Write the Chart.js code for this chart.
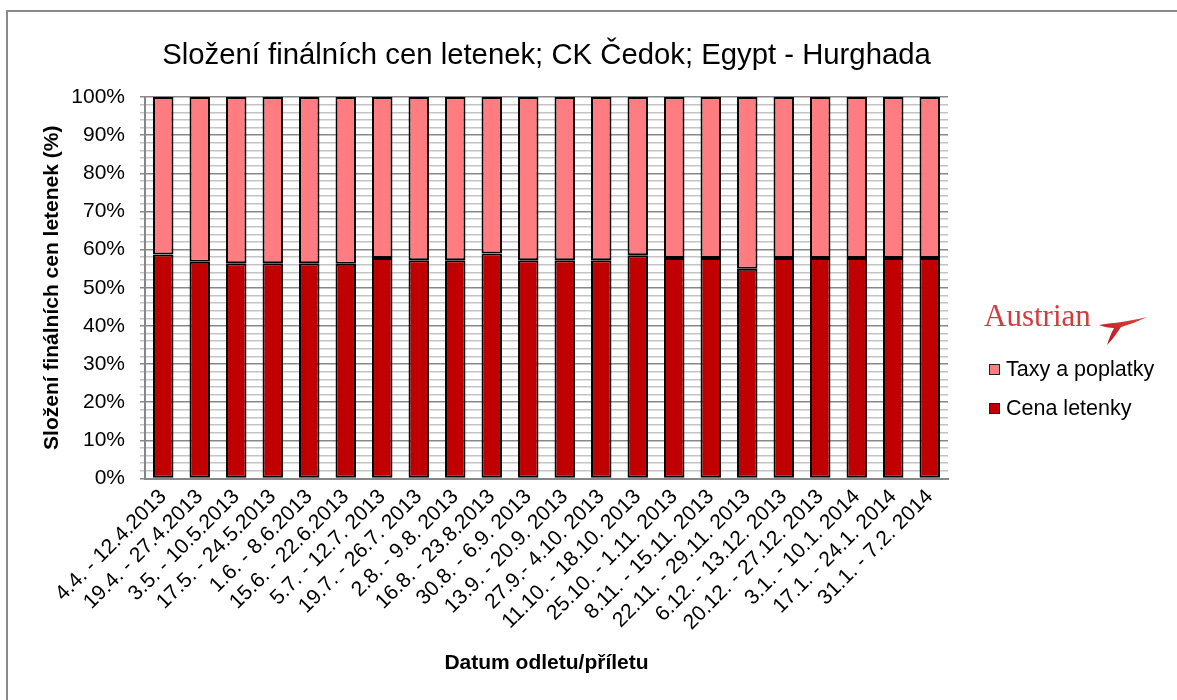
<!DOCTYPE html>
<html lang="cs">
<head>
<meta charset="utf-8">
<script src="https://cdn.jsdelivr.net/npm/chart.js@4.4.1/dist/chart.umd.min.js"></script>
<style>
  html, body { margin: 0; padding: 0; background: #fff; }
  body { width: 1177px; height: 700px; position: relative; overflow: hidden; font-family: "Liberation Sans", Arial, sans-serif; }
  #frame { position: absolute; left: 6px; top: 10px; width: 1300px; height: 800px; border-left: 2px solid #8a8a8a; border-top: 2px solid #8a8a8a; }
  #chart { position: absolute; left: 0; top: 0; }
  #title { position: absolute; left: 0; width: 1093px; top: 37px; text-align: center; font-size: 29.3px; color: #000; white-space: nowrap; }
  #logo { position: absolute; left: 984px; top: 298px; font-family: "Liberation Serif", "Times New Roman", serif; font-size: 31px; color: #d23b3f; }
  #swoosh { position: absolute; left: 1097px; top: 312px; }
  .leg { position: absolute; left: 989px; font-size: 21.5px; color: #000; white-space: nowrap; }
  .leg i { display: inline-block; width: 9px; height: 9px; border: 1px solid #222; margin-right: 6px; vertical-align: 1px; }
</style>
</head>
<body>
<div id="frame"></div>
<canvas id="chart" width="1177" height="700"></canvas>
<div id="title">Složení finálních cen letenek; CK Čedok; Egypt - Hurghada</div>
<div id="logo">Austrian</div>
<svg id="swoosh" width="52" height="36" viewBox="0 0 52 36">
  <defs><linearGradient id="sg" x1="0" y1="1" x2="1" y2="0"><stop offset="0" stop-color="#b5121b"/><stop offset="1" stop-color="#e0443f"/></linearGradient></defs>
  <path d="M2 13 C14 11 30 10 50 5 C38 11 30 13 24 15 C20 21 16 27 10 33 C12 27 14 21 17 16 C12 16 7 15 2 13 Z" fill="url(#sg)"/>
</svg>
<div class="leg" id="leg1" style="top:357px"><i style="background:#ff7c80"></i>Taxy a poplatky</div>
<div class="leg" id="leg2" style="top:396px"><i style="background:#c00000"></i>Cena letenky</div>
<script>
const FONT = '"Liberation Sans", Arial, sans-serif';

const terminy = [
  '4.4. - 12.4.2013', '19.4. - 27.4.2013', '3.5. - 10.5.2013', '17.5. - 24.5.2013',
  '1.6. - 8.6.2013', '15.6. - 22.6.2013', '5.7. - 12.7. 2013', '19.7. - 26.7. 2013',
  '2.8. - 9.8. 2013', '16.8. - 23.8.2013', '30.8. - 6.9. 2013', '13.9. - 20.9. 2013',
  '27.9.- 4.10. 2013', '11.10. - 18.10. 2013', '25.10. - 1.11. 2013', '8.11. - 15.11. 2013',
  '22.11. - 29.11. 2013', '6.12. - 13.12. 2013', '20.12. - 27.12. 2013', '3.1. - 10.1. 2014',
  '17.1. - 24.1. 2014', '31.1. - 7.2. 2014'
];
// podíl ceny letenky (%)
const cenaLetenky = [58.7, 56.8, 56.4, 56.4, 56.4, 56.3, 57.8, 57.2, 57.2, 59.0, 57.2,
  57.2, 57.2, 58.5, 57.8, 57.8, 55.0, 57.8, 57.8, 57.8, 57.8, 57.8];
// podíl tax a poplatků (%)
const taxyPoplatky = [41.3, 43.2, 43.6, 43.6, 43.6, 43.7, 42.2, 42.8, 42.8, 41.0, 42.8,
  42.8, 42.8, 41.5, 42.2, 42.2, 45.0, 42.2, 42.2, 42.2, 42.2, 42.2];

const bar = (label, data, color) => ({
  label, data, backgroundColor: color, borderColor: '#000', borderWidth: 2,
  borderSkipped: false, barPercentage: 0.56, categoryPercentage: 1,
});

new Chart(document.getElementById('chart'), {
  type: 'bar',
  data: { labels: terminy, datasets: [
    bar('Cena letenky', cenaLetenky, '#c00000'),
    bar('Taxy a poplatky', taxyPoplatky, '#ff7c80'),
  ] },
  options: {
    responsive: false, animation: false,
    layout: { padding: { left: 0, top: 97, right: 229, bottom: 0 } },
    plugins: { legend: { display: false }, tooltip: { enabled: false } },
    scales: {
      x: {
        stacked: true,
        grid: { display: false, drawTicks: false },
        border: { color: '#868686', width: 2 },
        ticks: { color: '#000', font: { family: FONT, size: 21 }, minRotation: 45, maxRotation: 45, autoSkip: false, padding: 6 },
        title: { display: true, text: 'Datum odletu/příletu', color: '#000', font: { family: FONT, size: 21, weight: 'bold' }, padding: { top: 0, bottom: 24 } },
        afterFit: (s) => { s.height = 221.5; },
      },
      y: {
        stacked: true, min: 0, max: 100,
        grid: {
          color: (c) => (c.tick && c.tick.value % 10 === 0 ? '#888888' : '#c4c4c4'),
          lineWidth: 1.5, drawTicks: true, tickLength: 5,
        },
        border: { color: '#868686', width: 2 },
        ticks: {
          stepSize: 2, autoSkip: false, padding: 15, color: '#000',
          font: { family: FONT, size: 21 },
          callback: (v) => (v % 10 === 0 ? v + '%' : ''),
        },
        title: { display: true, text: 'Složení finálních cen letenek (%)', color: '#000', font: { family: FONT, size: 21, weight: 'bold' }, padding: { top: 40, bottom: 0 } },
        afterFit: (s) => { s.width = 145; },
      },
    },
  },
});
</script>
</body>
</html>
